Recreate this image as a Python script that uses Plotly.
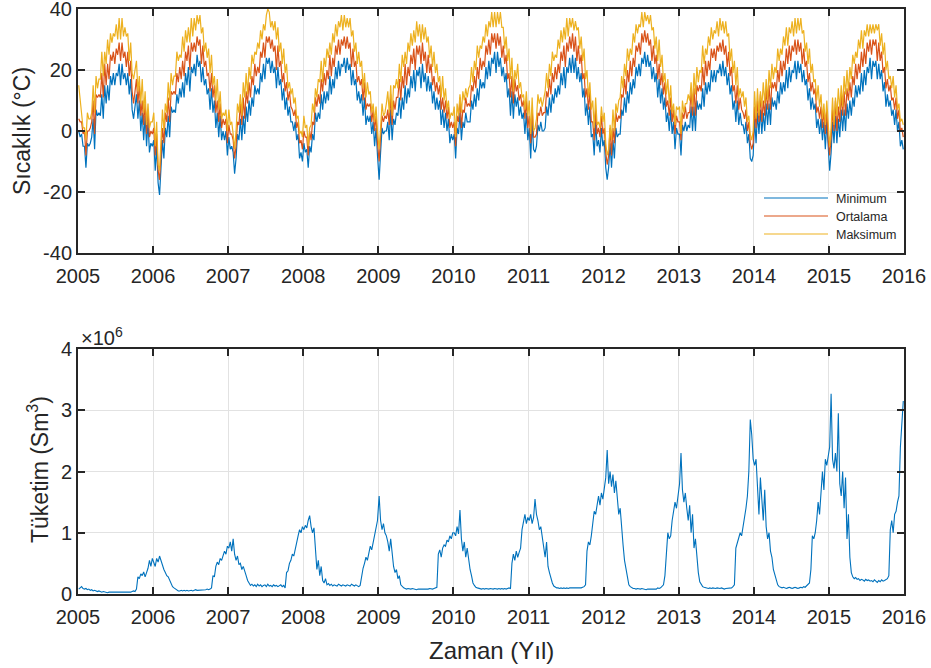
import pandas as pd
import plotly.graph_objects as go

# Haftalık sıcaklık değerleri (°C), her satır bir yıl: 2005 ... 2015
yillar = list(range(2005, 2016))

tmin = [
    [0, -2, -1, -5, -5, -12, -4, -5, -4, -2, 4, -6, 7, 5, 6, 5, 12, 4, 15, 9, 15, 10, 18, 15, 19, 15, 19, 18, 22, 15, 22, 17, 19, 15, 19, 12, 17, 7, 4, 8, 12, 4, 10, 0, 6, -3, 5, -5, 3, -7, -4, -5],
    [-3, -13, -5, -17, -21, -12, -3, -9, 1, -2, 5, -2, 8, 6, 7, 6, 12, 9, 14, 11, 16, 11, 19, 15, 21, 13, 21, 19, 22, 18, 25, 21, 23, 16, 21, 15, 17, 12, 14, 7, 14, 6, 10, 1, 6, -2, 5, -3, 0, -3, 0, -8],
    [-2, -6, -5, -7, -14, -9, -1, -3, 4, -3, 5, -1, 8, 3, 10, 5, 11, 8, 15, 12, 14, 12, 19, 16, 22, 17, 24, 22, 24, 19, 23, 19, 21, 14, 21, 15, 17, 10, 14, 7, 11, 5, 8, 3, 3, 0, 3, -3, -1, -9, -7, -10],
    [-4, -7, -6, -12, -5, -7, -1, -3, 6, 3, 6, 4, 12, 7, 13, 9, 13, 10, 18, 12, 17, 14, 21, 17, 23, 18, 22, 21, 24, 19, 24, 20, 22, 15, 20, 15, 17, 10, 13, 9, 12, 5, 11, 2, 5, 3, 5, -1, 3, -5, 1, -8],
    [-16, -7, 1, -1, 0, 0, 3, -3, 7, -3, 4, 2, 6, 5, 11, 4, 11, 7, 15, 9, 14, 11, 18, 14, 20, 13, 20, 18, 21, 14, 22, 16, 19, 13, 18, 13, 16, 9, 13, 7, 11, 7, 10, 2, 7, 1, 6, 0, 4, -4, -1, -3],
    [-1, -9, 1, -1, 6, -3, 3, 1, 6, 3, 3, 3, 10, 7, 12, 8, 14, 10, 17, 14, 16, 14, 21, 17, 23, 18, 24, 22, 26, 19, 26, 21, 24, 18, 21, 16, 19, 11, 14, 5, 13, 4, 12, 8, 11, 5, 8, 4, 6, -1, 6, -3],
    [1, -9, 3, -6, -7, -5, 2, 0, 3, 0, 0, 1, 8, 5, 11, 6, 12, 9, 14, 11, 15, 12, 19, 15, 21, 14, 21, 19, 24, 19, 25, 19, 24, 17, 21, 16, 19, 11, 14, 5, 9, 2, 8, -2, -1, -8, 3, -5, -3, -7, 1, -5],
    [-3, -12, -16, -12, -4, -12, -3, -9, 1, -2, -1, -1, 7, 5, 11, 6, 13, 9, 16, 12, 17, 14, 21, 18, 22, 18, 24, 22, 26, 21, 25, 21, 23, 17, 21, 16, 19, 11, 17, 9, 14, 7, 11, 3, 6, 0, 7, -1, 3, -6, 1, -1],
    [-1, -8, 2, 0, 3, 0, 2, 1, 8, 0, 8, 0, 10, 7, 9, 7, 14, 8, 16, 12, 16, 13, 20, 16, 20, 16, 20, 19, 22, 18, 23, 18, 21, 15, 19, 12, 15, 7, 10, 3, 10, 2, 6, 2, 2, -1, 3, -4, -1, -9, -10, -8],
    [4, -4, 6, -1, 7, -1, 6, 0, 9, 2, 9, 2, 11, 8, 10, 7, 13, 9, 16, 12, 16, 13, 20, 14, 21, 16, 20, 19, 23, 17, 23, 19, 22, 16, 20, 15, 17, 10, 14, 7, 11, 7, 9, 1, 4, -1, 4, -3, 3, -6, 3, -7],
    [-13, -7, 3, -4, 5, -4, 4, -2, 7, 0, 7, 0, 9, 4, 10, 5, 11, 8, 15, 11, 15, 12, 19, 13, 20, 15, 21, 19, 24, 17, 23, 21, 23, 17, 22, 17, 20, 13, 16, 8, 12, 8, 10, 5, 7, 2, 7, 0, 3, -5, -3, -6],
]

tort = [
    [4, 3, 3, -1, 0, -8, 0, 0, 1, 3, 10, -1, 12, 11, 12, 11, 19, 11, 22, 15, 22, 17, 25, 23, 26, 22, 27, 25, 29, 23, 29, 24, 26, 21, 26, 18, 23, 13, 9, 14, 17, 9, 15, 5, 10, 2, 9, -1, 7, -2, 0, -1],
    [1, -8, -1, -13, -16, -8, 1, -4, 6, 3, 11, 3, 13, 12, 13, 12, 19, 16, 21, 17, 23, 18, 26, 23, 28, 20, 29, 26, 29, 26, 31, 28, 30, 22, 28, 21, 23, 18, 19, 13, 19, 11, 15, 6, 10, 3, 9, 1, 4, 2, 4, -4],
    [2, -1, -1, -3, -9, -5, 3, 2, 9, 2, 11, 4, 13, 9, 16, 11, 18, 15, 22, 18, 21, 19, 26, 24, 29, 24, 31, 29, 31, 27, 30, 26, 28, 20, 28, 21, 23, 16, 19, 13, 16, 10, 13, 8, 7, 5, 7, 1, 3, -4, -3, -6],
    [0, -2, -2, -8, 0, -3, 3, 2, 11, 8, 12, 9, 17, 13, 19, 15, 20, 17, 25, 18, 24, 21, 28, 25, 30, 25, 30, 28, 31, 27, 31, 27, 29, 21, 27, 21, 23, 16, 18, 15, 17, 10, 16, 7, 9, 8, 9, 3, 7, 0, 5, -4],
    [-10, -2, 5, 3, 5, 4, 7, 2, 12, 2, 10, 7, 11, 11, 17, 10, 18, 14, 22, 15, 21, 18, 25, 22, 27, 20, 28, 25, 28, 22, 29, 23, 26, 19, 25, 19, 22, 15, 18, 13, 16, 12, 15, 7, 11, 6, 10, 4, 8, 1, 3, 1],
    [3, -5, 5, 3, 11, 1, 7, 6, 11, 8, 9, 8, 15, 13, 18, 14, 21, 17, 24, 20, 23, 21, 28, 25, 30, 25, 32, 29, 32, 27, 32, 28, 31, 24, 28, 22, 25, 17, 19, 11, 18, 9, 17, 13, 15, 10, 12, 8, 10, 4, 10, 1],
    [5, -4, 7, -2, -2, -1, 6, 5, 8, 5, 6, 6, 13, 11, 17, 12, 19, 16, 21, 17, 22, 19, 26, 23, 28, 21, 29, 26, 31, 27, 32, 26, 31, 23, 28, 22, 25, 17, 19, 11, 14, 7, 13, 3, 3, -3, 7, -1, 1, -2, 5, -1],
    [1, -7, -11, -8, 1, -8, 1, -4, 6, 3, 5, 4, 12, 11, 17, 12, 20, 16, 23, 18, 24, 21, 28, 26, 29, 25, 32, 29, 33, 29, 32, 28, 30, 23, 28, 22, 25, 17, 22, 15, 19, 12, 16, 8, 10, 5, 11, 3, 7, -1, 5, 3],
    [3, -3, 6, 4, 8, 4, 6, 6, 13, 5, 14, 5, 15, 13, 15, 13, 21, 15, 23, 18, 23, 20, 27, 24, 27, 23, 28, 26, 29, 26, 30, 25, 28, 21, 26, 18, 21, 13, 15, 9, 15, 7, 11, 7, 6, 4, 7, 0, 3, -4, -6, -4],
    [8, 1, 10, 3, 12, 3, 10, 5, 14, 7, 15, 7, 16, 14, 16, 13, 20, 16, 23, 18, 23, 20, 27, 22, 28, 23, 28, 26, 30, 25, 30, 26, 29, 22, 27, 21, 23, 16, 19, 13, 16, 12, 14, 6, 8, 4, 8, 1, 7, -1, 7, -3],
    [-8, -2, 7, 0, 10, 0, 8, 3, 12, 5, 13, 5, 14, 10, 16, 11, 18, 15, 22, 17, 22, 19, 26, 21, 27, 22, 29, 26, 30, 25, 30, 28, 30, 23, 29, 23, 26, 19, 21, 14, 17, 13, 15, 10, 11, 7, 11, 4, 7, 0, 1, -2],
]

tmax = [
    [15, 11, 7, 1, 1, -3, 6, 4, 4, 6, 15, 6, 18, 14, 17, 17, 26, 18, 26, 22, 30, 25, 32, 29, 32, 31, 35, 30, 37, 30, 37, 31, 34, 31, 32, 23, 29, 19, 17, 20, 23, 13, 18, 9, 17, 6, 13, 2, 9, 1, 3, 3],
    [6, -5, 3, -11, -13, -3, 7, 0, 9, 6, 16, 10, 19, 15, 18, 18, 26, 23, 25, 24, 31, 26, 33, 29, 34, 29, 37, 31, 37, 33, 38, 35, 38, 32, 34, 26, 29, 24, 27, 19, 25, 15, 18, 10, 17, 7, 13, 4, 6, 5, 7, 0],
    [7, 2, 3, -1, -6, 0, 9, 6, 12, 5, 16, 11, 19, 12, 21, 17, 25, 22, 26, 25, 29, 27, 33, 30, 35, 33, 38, 40, 39, 34, 36, 33, 36, 30, 34, 26, 29, 22, 27, 19, 22, 14, 16, 12, 14, 9, 11, 4, 5, -1, 0, -2],
    [5, 1, 2, -5, 1, 2, 9, 6, 14, 11, 17, 16, 23, 16, 24, 21, 27, 24, 29, 25, 32, 29, 35, 31, 36, 34, 38, 33, 38, 34, 37, 34, 37, 31, 33, 26, 29, 22, 26, 21, 23, 14, 19, 11, 16, 12, 13, 6, 9, 3, 8, 0],
    [-6, 1, 9, 5, 6, 9, 13, 6, 15, 5, 15, 14, 17, 14, 22, 16, 25, 21, 26, 22, 29, 26, 32, 28, 33, 29, 36, 31, 35, 29, 35, 30, 34, 29, 31, 24, 28, 21, 26, 19, 22, 16, 18, 11, 18, 10, 14, 7, 10, 4, 6, 5],
    [8, -2, 9, 5, 12, 6, 13, 10, 14, 11, 14, 15, 21, 16, 23, 20, 28, 24, 28, 27, 31, 29, 35, 31, 36, 34, 39, 34, 39, 34, 39, 35, 39, 34, 34, 27, 31, 23, 27, 17, 24, 13, 20, 17, 22, 14, 16, 11, 12, 7, 13, 5],
    [10, -1, 11, 0, 1, 4, 12, 9, 11, 8, 11, 13, 19, 14, 22, 18, 26, 23, 25, 24, 30, 27, 33, 29, 34, 30, 37, 31, 37, 34, 37, 33, 36, 33, 34, 27, 31, 23, 27, 17, 20, 11, 16, 7, 10, 1, 11, 2, 3, 1, 8, 3],
    [6, -4, -8, -6, 2, -3, 7, 0, 9, 6, 10, 11, 18, 14, 22, 18, 27, 23, 27, 25, 32, 29, 35, 32, 35, 34, 39, 34, 39, 36, 38, 35, 38, 33, 34, 27, 31, 23, 30, 21, 25, 16, 19, 12, 17, 9, 15, 6, 9, 2, 8, 7],
    [8, -1, 10, 6, 9, 9, 12, 10, 16, 8, 19, 12, 21, 16, 20, 19, 28, 22, 27, 25, 31, 28, 34, 30, 33, 32, 36, 31, 37, 33, 36, 32, 36, 31, 32, 23, 27, 19, 23, 15, 21, 11, 14, 11, 13, 8, 11, 3, 5, -1, -3, 0],
    [13, 4, 14, 5, 13, 8, 16, 9, 17, 10, 20, 14, 22, 17, 21, 19, 27, 23, 27, 25, 31, 28, 34, 28, 34, 32, 36, 31, 37, 32, 37, 33, 37, 32, 33, 26, 29, 22, 27, 19, 22, 16, 17, 10, 15, 8, 12, 4, 9, 2, 10, 1],
    [-5, 1, 11, 2, 11, 5, 14, 7, 15, 8, 18, 12, 20, 13, 21, 17, 25, 22, 26, 24, 30, 27, 33, 27, 33, 31, 35, 31, 35, 32, 35, 32, 35, 33, 35, 28, 32, 25, 29, 20, 23, 17, 18, 14, 18, 11, 15, 7, 9, 3, 4, 2],
]

# Haftalık doğal gaz tüketimi (milyon Sm3), her satır bir yıl
tuketim = [
    [0.08, 0.10, 0.12, 0.09, 0.08, 0.09, 0.07, 0.08, 0.06, 0.07, 0.05, 0.06, 0.05, 0.04, 0.05, 0.04, 0.03, 0.04, 0.03, 0.03, 0.02, 0.03, 0.03, 0.02, 0.03, 0.02, 0.02, 0.03, 0.02, 0.02, 0.03, 0.02, 0.02, 0.03, 0.02, 0.03, 0.03, 0.04, 0.05, 0.04, 0.08, 0.28, 0.25, 0.33, 0.30, 0.36, 0.28, 0.35, 0.42, 0.55, 0.45, 0.58],
    [0.50, 0.45, 0.58, 0.52, 0.62, 0.55, 0.45, 0.40, 0.35, 0.30, 0.28, 0.22, 0.18, 0.12, 0.10, 0.08, 0.06, 0.05, 0.05, 0.06, 0.05, 0.06, 0.05, 0.06, 0.05, 0.06, 0.06, 0.05, 0.06, 0.07, 0.06, 0.06, 0.07, 0.06, 0.07, 0.06, 0.07, 0.08, 0.07, 0.08, 0.10, 0.30, 0.28, 0.45, 0.52, 0.48, 0.58, 0.55, 0.62, 0.70, 0.65, 0.78],
    [0.75, 0.85, 0.70, 0.90, 0.65, 0.55, 0.62, 0.48, 0.50, 0.40, 0.45, 0.35, 0.30, 0.22, 0.17, 0.14, 0.16, 0.13, 0.15, 0.12, 0.16, 0.13, 0.15, 0.12, 0.14, 0.15, 0.12, 0.16, 0.13, 0.14, 0.12, 0.15, 0.13, 0.14, 0.12, 0.13, 0.15, 0.12, 0.14, 0.10, 0.35, 0.38, 0.50, 0.55, 0.65, 0.62, 0.75, 0.85, 0.95, 1.05, 1.00, 1.10],
    [1.05, 1.12, 1.08, 1.20, 1.28, 1.10, 1.00, 1.08, 0.70, 0.40, 0.55, 0.30, 0.45, 0.22, 0.18, 0.25, 0.15, 0.17, 0.14, 0.16, 0.13, 0.15, 0.14, 0.13, 0.16, 0.14, 0.13, 0.15, 0.14, 0.13, 0.15, 0.14, 0.13, 0.16, 0.14, 0.13, 0.15, 0.14, 0.12, 0.14, 0.30, 0.42, 0.50, 0.60, 0.55, 0.70, 0.78, 0.72, 0.85, 0.95, 1.05, 1.20],
    [1.60, 1.20, 1.05, 1.15, 1.00, 0.95, 0.85, 0.70, 0.90, 0.65, 0.45, 0.35, 0.40, 0.25, 0.30, 0.15, 0.12, 0.10, 0.09, 0.08, 0.09, 0.08, 0.08, 0.09, 0.08, 0.08, 0.07, 0.08, 0.08, 0.07, 0.08, 0.08, 0.07, 0.08, 0.08, 0.09, 0.08, 0.08, 0.09, 0.10, 0.11, 0.65, 0.72, 0.60, 0.75, 0.80, 0.78, 0.88, 0.85, 0.95, 0.90, 1.00],
    [1.00, 0.95, 1.10, 0.98, 1.37, 0.90, 0.70, 0.85, 0.60, 0.75, 0.55, 0.40, 0.30, 0.18, 0.14, 0.11, 0.10, 0.09, 0.09, 0.08, 0.09, 0.08, 0.09, 0.08, 0.08, 0.09, 0.08, 0.08, 0.09, 0.08, 0.08, 0.09, 0.08, 0.09, 0.08, 0.09, 0.08, 0.09, 0.10, 0.09, 0.50, 0.65, 0.55, 0.70, 0.60, 0.68, 0.75, 1.05, 1.20, 1.30, 1.15, 1.25],
    [1.20, 1.30, 1.15, 1.25, 1.55, 1.30, 1.20, 1.05, 1.10, 0.95, 0.75, 0.60, 0.85, 0.45, 0.35, 0.25, 0.18, 0.13, 0.11, 0.10, 0.10, 0.09, 0.10, 0.09, 0.10, 0.09, 0.10, 0.09, 0.10, 0.10, 0.09, 0.10, 0.09, 0.10, 0.09, 0.10, 0.10, 0.11, 0.12, 0.15, 0.70, 0.85, 0.80, 0.95, 1.20, 1.35, 1.30, 1.50, 1.60, 1.45, 1.65, 1.55],
    [1.70, 1.90, 2.35, 1.80, 2.00, 1.75, 1.95, 1.65, 1.85, 1.50, 1.30, 1.40, 1.00, 0.80, 0.55, 0.40, 0.25, 0.15, 0.12, 0.10, 0.09, 0.09, 0.08, 0.09, 0.08, 0.08, 0.09, 0.08, 0.08, 0.07, 0.08, 0.08, 0.09, 0.08, 0.08, 0.09, 0.08, 0.10, 0.09, 0.10, 0.12, 0.15, 0.30, 0.75, 1.00, 0.90, 0.95, 1.20, 1.35, 1.50, 1.40, 1.60],
    [1.80, 2.30, 1.70, 1.50, 1.65, 1.40, 1.20, 1.45, 1.00, 1.30, 0.75, 0.90, 0.55, 0.35, 0.20, 0.15, 0.12, 0.11, 0.10, 0.10, 0.09, 0.10, 0.09, 0.10, 0.09, 0.09, 0.10, 0.09, 0.09, 0.10, 0.09, 0.08, 0.09, 0.09, 0.10, 0.09, 0.10, 0.12, 0.15, 0.75, 0.85, 0.90, 1.00, 0.95, 1.10, 1.20, 1.40, 1.60, 2.00, 2.85, 2.60, 2.20],
    [2.10, 2.20, 1.60, 1.30, 1.90, 1.50, 1.20, 1.70, 1.10, 0.90, 1.00, 0.70, 0.60, 0.40, 0.30, 0.20, 0.15, 0.12, 0.11, 0.10, 0.11, 0.10, 0.09, 0.10, 0.11, 0.10, 0.09, 0.10, 0.11, 0.10, 0.09, 0.10, 0.11, 0.10, 0.12, 0.11, 0.13, 0.15, 0.18, 0.40, 0.95, 0.90, 1.00, 1.20, 1.50, 1.30, 1.60, 2.00, 1.70, 2.20, 2.10, 2.30],
    [2.40, 3.27, 2.20, 2.05, 2.30, 2.00, 2.95, 1.80, 1.60, 2.00, 1.40, 1.90, 0.90, 1.30, 0.60, 0.35, 0.28, 0.25, 0.27, 0.24, 0.25, 0.22, 0.24, 0.23, 0.21, 0.24, 0.22, 0.23, 0.21, 0.22, 0.20, 0.23, 0.21, 0.19, 0.22, 0.20, 0.23, 0.21, 0.22, 0.24, 0.25, 0.30, 1.05, 1.20, 1.00, 1.30, 1.35, 1.50, 1.60, 2.40, 2.80, 3.15],
]

seri_adlari = ["Minimum", "Ortalama", "Maksimum"]
seri_renkleri = ["#0072BD", "#D95319", "#EDB120"]
yil_etiketleri = [str(y) for y in range(2005, 2017)]
sicaklik_tikleri = [-40, -20, 0, 20, 40]
tuketim_tikleri = [0, 1, 2, 3, 4]


def zaman_ekseni(satirlar):
    """Her yılın haftalık değerlerini yıl içine eşit aralıklarla yerleştirir."""
    x = []
    for yil, satir in zip(yillar, satirlar):
        bas = pd.Timestamp(f"{yil}-01-01")
        adim = 365.0 / len(satir)
        x += [bas + pd.Timedelta(days=(k + 0.5) * adim) for k in range(len(satir))]
    return x


def duzlestir(satirlar):
    return [v for s in satirlar for v in s]


W, H = 931, 668
FONT = "Liberation Sans, Arial, Helvetica, sans-serif"
INK = "#262626"

# eksen kutularının piksel sınırları
X0, X1 = 78, 904
UST = (9, 253)
ALT = (349, 594)


def px_x(p):
    return p / W


def px_y(p):
    return 1 - p / H


fig = go.Figure()

for ad, renk, veri in zip(seri_adlari, seri_renkleri, [tmin, tort, tmax]):
    fig.add_trace(go.Scatter(
        x=zaman_ekseni(veri), y=duzlestir(veri), mode="lines", name=ad,
        line=dict(color=renk, width=1.2), xaxis="x", yaxis="y", showlegend=False,
    ))

fig.add_trace(go.Scatter(
    x=zaman_ekseni(tuketim), y=duzlestir(tuketim), mode="lines", name="Tüketim",
    line=dict(color="#0072BD", width=1.1), xaxis="x2", yaxis="y2", showlegend=False,
))

eksen = dict(
    showline=True, linecolor=INK, linewidth=2, mirror="allticks",
    ticks="inside", ticklen=7, tickwidth=2, tickcolor=INK,
    showgrid=True, gridcolor="#e2e2e2", gridwidth=1, zeroline=False,
    tickfont=dict(family=FONT, size=20, color=INK), automargin=False,
    ticklabeloverflow="allow",
)
x_ortak = dict(
    eksen, type="date", range=["2005-01-01", "2016-01-01"],
    tickvals=[f"{y}-01-01" for y in range(2005, 2017)], ticktext=yil_etiketleri,
    ticklabelstandoff=4,
)

fig.update_layout(
    width=W, height=H, margin=dict(l=0, r=0, t=0, b=0),
    paper_bgcolor="white", plot_bgcolor="white",
    font=dict(family=FONT, color=INK),
    xaxis=dict(x_ortak, domain=[px_x(X0), px_x(X1)], anchor="y"),
    yaxis=dict(eksen, domain=[px_y(UST[1]), px_y(UST[0])], anchor="x",
               range=[-40, 40], tickvals=sicaklik_tikleri,
               ticktext=[str(v) for v in sicaklik_tikleri]),
    xaxis2=dict(x_ortak, domain=[px_x(X0), px_x(X1)], anchor="y2"),
    yaxis2=dict(eksen, domain=[px_y(ALT[1]), px_y(ALT[0])], anchor="x2",
                range=[0, 4], tickvals=tuketim_tikleri,
                ticktext=[str(v) for v in tuketim_tikleri]),
)

# eksen başlıkları
basliklar = [
    ("Sıcaklık (°C)", 22, 131, -90, 23),
    ("Tüketim (Sm<sup>3</sup>)", 38, 470, -90, 23),
    ("Zaman (Yıl)", 491, 650, 0, 24),
]
for metin, bx, by, aci, boy in basliklar:
    fig.add_annotation(x=px_x(bx), y=px_y(by), xref="paper", yref="paper",
                       xanchor="center", yanchor="middle", textangle=aci,
                       text=metin, showarrow=False,
                       font=dict(family=FONT, size=boy, color=INK))

# ölçek çarpanı
fig.add_annotation(
    x=px_x(79), y=px_y(337), xref="paper", yref="paper", xanchor="left", yanchor="middle",
    text="×10<sup>6</sup>", showarrow=False, font=dict(family=FONT, size=20, color=INK),
)

# lejant: beyaz zemin, çizgi örnekleri ve etiketler
fig.add_shape(type="rect", xref="paper", yref="paper",
              x0=px_x(756), x1=px_x(901), y0=px_y(244), y1=px_y(194),
              fillcolor="white", line=dict(width=0), layer="above")
for i, (ad, renk) in enumerate(zip(seri_adlari, seri_renkleri)):
    yy = 198 + 18 * i
    fig.add_shape(type="line", xref="paper", yref="paper",
                  x0=px_x(764), x1=px_x(828), y0=px_y(yy), y1=px_y(yy),
                  line=dict(color=renk, width=1.2), layer="above")
    fig.add_annotation(x=px_x(834), y=px_y(yy + 1), xref="paper", yref="paper",
                       xanchor="left", yanchor="middle", text=ad, showarrow=False,
                       font=dict(family=FONT, size=12.5, color=INK))

fig.write_html("out.html")
